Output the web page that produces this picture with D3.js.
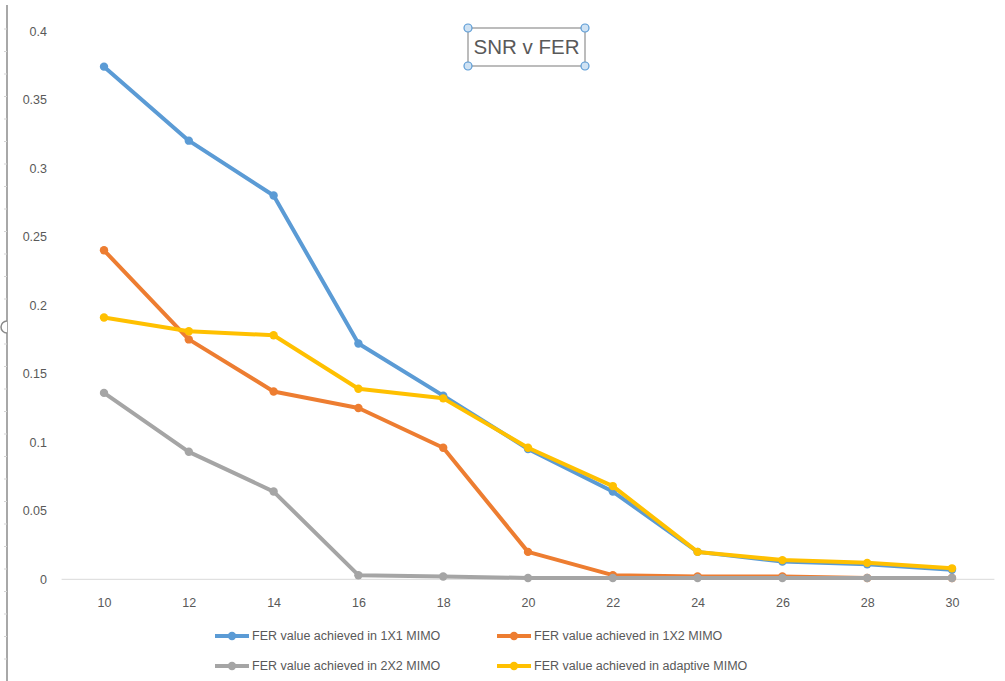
<!DOCTYPE html>
<html>
<head>
<meta charset="utf-8">
<script src="https://cdn.jsdelivr.net/npm/d3@7/dist/d3.min.js"></script>
<style>
  html, body { margin: 0; padding: 0; background: #fff; }
  svg { display: block; }
  text { font-family: "Liberation Sans", Arial, sans-serif; }
</style>
</head>
<body>
<svg id="chart" width="1005" height="681"></svg>
<script>
// SNR (dB) on the category axis
const snr = [10, 12, 14, 16, 18, 20, 22, 24, 26, 28, 30];

// Frame error rate for each antenna configuration
const fer1x1 = [0.374, 0.320, 0.280, 0.172, 0.134, 0.095, 0.064, 0.020, 0.013, 0.011, 0.007];
const fer1x2 = [0.240, 0.175, 0.137, 0.125, 0.096, 0.020, 0.003, 0.002, 0.002, 0.001, 0.001];
const fer2x2 = [0.136, 0.093, 0.064, 0.003, 0.002, 0.001, 0.001, 0.001, 0.001, 0.001, 0.001];
const ferAdaptive = [0.191, 0.181, 0.178, 0.139, 0.132, 0.096, 0.068, 0.020, 0.014, 0.012, 0.008];

const yTicks = [0, 0.05, 0.1, 0.15, 0.2, 0.25, 0.3, 0.35, 0.4];
const seriesNames = [
  "FER value achieved in 1X1 MIMO",
  "FER value achieved in 1X2 MIMO",
  "FER value achieved in 2X2 MIMO",
  "FER value achieved in adaptive MIMO"
];
const seriesColors = ["#5B9BD5", "#ED7D31", "#A5A5A5", "#FFC000"];
const titleText = "SNR v FER";

const series = [fer1x1, fer1x2, fer2x2, ferAdaptive].map((vals, i) => ({
  name: seriesNames[i],
  color: seriesColors[i],
  values: vals.map((v, j) => ({ x: snr[j], y: v }))
}));

const svg = d3.select("#chart");
const textColor = "#595959";

const x = d3.scalePoint().domain(snr).range([61.6, 994.4]).padding(0.5);
const y = d3.scaleLinear().domain([0, 0.4]).range([579.3, 31]);

// Ruler-like frame edge on the left
const ruler = svg.append("g");
ruler.append("line")
  .attr("x1", 7).attr("x2", 7).attr("y1", 5).attr("y2", 681)
  .attr("stroke", "#a8a8a8").attr("stroke-width", 2);
ruler.selectAll("line.tick")
  .data(d3.range(29, 681, 22.5))
  .join("line").attr("class", "tick")
  .attr("x1", 4).attr("x2", 7)
  .attr("y1", d => d).attr("y2", d => d)
  .attr("stroke", "#d4d4d4").attr("stroke-width", 1);
ruler.append("path")
  .attr("d", "M7,321 A6,6 0 0,0 7,333")
  .attr("fill", "#fff").attr("stroke", "#8a8a8a").attr("stroke-width", 1.5);

// Y axis labels (no axis line)
const yAxis = svg.append("g")
  .attr("transform", "translate(47,0)")
  .call(d3.axisLeft(y).tickValues(yTicks).tickSize(0).tickPadding(0)
    .tickFormat(d => d3.format("")(+d.toFixed(2))));
yAxis.select(".domain").remove();
yAxis.selectAll("text")
  .attr("fill", textColor).style("font-size", "12.5px")
  .style("font-family", "'Liberation Sans', Arial, sans-serif");

// X axis: baseline plus category labels
svg.append("line")
  .attr("x1", 61.6).attr("x2", 994.4)
  .attr("y1", y(0)).attr("y2", y(0))
  .attr("stroke", "#d9d9d9").attr("stroke-width", 1);
const xAxis = svg.append("g")
  .attr("transform", "translate(0,598)")
  .call(d3.axisBottom(x).tickSize(0).tickPadding(0));
xAxis.select(".domain").remove();
xAxis.selectAll("text")
  .attr("fill", textColor).attr("dy", "0.71em").style("font-size", "12.5px")
  .style("font-family", "'Liberation Sans', Arial, sans-serif");

// Lines and markers
const line = d3.line().x(d => x(d.x)).y(d => y(d.y));
const gSeries = svg.append("g").selectAll("g")
  .data(series).join("g");
gSeries.append("path")
  .attr("d", d => line(d.values))
  .attr("fill", "none")
  .attr("stroke", d => d.color)
  .attr("stroke-width", 4)
  .attr("stroke-linejoin", "round")
  .attr("stroke-linecap", "round");
gSeries.selectAll("circle")
  .data(d => d.values.map(v => ({ ...v, color: d.color })))
  .join("circle")
  .attr("cx", d => x(d.x)).attr("cy", d => y(d.y))
  .attr("r", 4.2)
  .attr("fill", d => d.color);

// Legend (2 x 2)
const legendPos = [[215, 636], [497, 636], [215, 666], [497, 666]];
const legend = svg.append("g").selectAll("g")
  .data(series).join("g")
  .attr("transform", (d, i) => `translate(${legendPos[i][0]},${legendPos[i][1]})`);
legend.append("line")
  .attr("x1", 0).attr("x2", 34).attr("y1", 0).attr("y2", 0)
  .attr("stroke", d => d.color).attr("stroke-width", 4);
legend.append("circle")
  .attr("cx", 17).attr("cy", 0).attr("r", 4.2)
  .attr("fill", d => d.color);
legend.append("text")
  .attr("x", 37).attr("y", 0).attr("dy", "0.35em")
  .attr("fill", textColor).style("font-size", "12.5px")
  .text(d => d.name);

// Title inside a selected text box
const tb = { x: 468, y: 28, w: 117, h: 38 };
const title = svg.append("g");
title.append("rect")
  .attr("x", tb.x).attr("y", tb.y).attr("width", tb.w).attr("height", tb.h)
  .attr("fill", "none").attr("stroke", "#a6a6a6").attr("stroke-width", 1.5);
title.append("text")
  .attr("x", tb.x + tb.w / 2).attr("y", tb.y + tb.h / 2).attr("dy", "0.36em")
  .attr("text-anchor", "middle")
  .attr("fill", textColor).style("font-size", "20.5px")
  .text(titleText);
title.selectAll("circle")
  .data([[tb.x, tb.y], [tb.x + tb.w, tb.y], [tb.x, tb.y + tb.h], [tb.x + tb.w, tb.y + tb.h]])
  .join("circle")
  .attr("cx", d => d[0]).attr("cy", d => d[1]).attr("r", 4)
  .attr("fill", "#cfe2f3").attr("stroke", "#5B9BD5").attr("stroke-width", 1.2);
</script>
</body>
</html>
